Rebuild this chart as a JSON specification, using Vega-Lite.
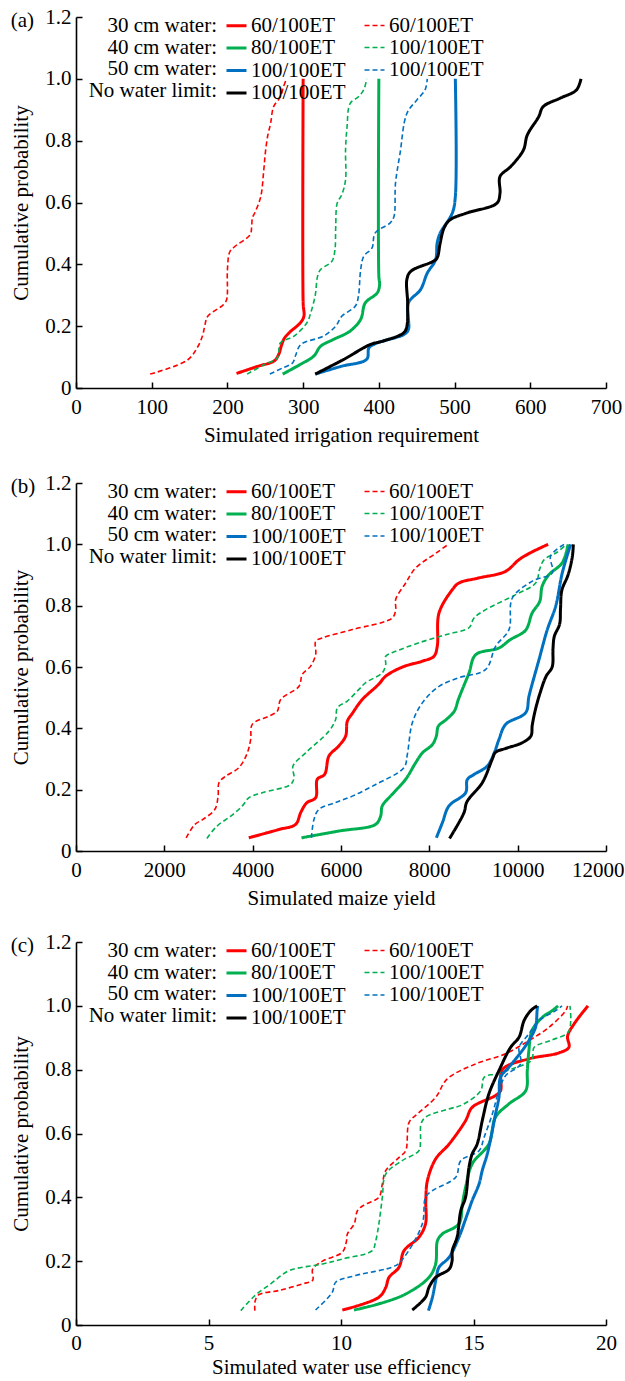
{
  "$schema": "https://vega.github.io/schema/vega-lite/v6.json",
  "padding": {"left": 10, "top": 6, "right": 0, "bottom": 0},
  "config": {
    "font": "Liberation Serif",
    "view": {"stroke": null},
    "axis": {"labelFont": "Liberation Serif", "labelFontSize": 21, "titleFont": "Liberation Serif", "titleFontSize": 21, "titleFontWeight": "normal", "labelColor": "black", "titleColor": "black", "domainColor": "black", "tickColor": "black", "domainWidth": 1.6, "tickWidth": 1.5, "tickSize": -6, "grid": false, "labelFlush": false, "labelOverlap": false},
    "axisX": {"labelPadding": 14, "titlePadding": 7},
    "axisY": {"labelPadding": 11, "titlePadding": 13},
    "legend": {"orient": "none", "legendX": 13, "legendY": -3, "columns": 2, "columnPadding": 15, "rowPadding": 0.5, "symbolType": "stroke", "symbolSize": 400, "labelOffset": 3, "labelFont": "Liberation Serif", "labelFontSize": 21, "labelColor": "black", "labelLimit": 300, "titleOrient": "left", "titleAlign": "right", "titleFont": "Liberation Serif", "titleFontSize": 21, "titleFontWeight": "normal", "titleColor": "black", "titleLineHeight": 21.7, "titlePadding": -121, "titleBaseline": "middle", "titleLimit": 400, "padding": 0},
    "title": {"font": "Liberation Serif", "fontSize": 21, "fontWeight": "normal", "color": "black", "anchor": "start", "frame": "bounds", "offset": -25, "baseline": "top"}
  },
  "datasets": {
    "a": [
      {"s":"s30","x":212,"p":0.047},{"s":"s30","x":240,"p":0.07},{"s":"s30","x":262,"p":0.088},{"s":"s30","x":268,"p":0.11},{"s":"s30","x":271,"p":0.135},{"s":"s30","x":275,"p":0.16},{"s":"s30","x":282,"p":0.18},{"s":"s30","x":296,"p":0.21},{"s":"s30","x":301,"p":0.232},{"s":"s30","x":300,"p":0.275},{"s":"s30","x":300,"p":1.0},
      {"s":"d30","x":98,"p":0.045},{"s":"d30","x":147,"p":0.09},{"s":"d30","x":160,"p":0.13},{"s":"d30","x":167,"p":0.168},{"s":"d30","x":170,"p":0.2},{"s":"d30","x":174,"p":0.232},{"s":"d30","x":195,"p":0.27},{"s":"d30","x":199,"p":0.286},{"s":"d30","x":200,"p":0.383},{"s":"d30","x":203,"p":0.44},{"s":"d30","x":209,"p":0.456},{"s":"d30","x":230,"p":0.496},{"s":"d30","x":232,"p":0.523},{"s":"d30","x":233,"p":0.55},{"s":"d30","x":237,"p":0.571},{"s":"d30","x":244,"p":0.619},{"s":"d30","x":248,"p":0.705},{"s":"d30","x":250,"p":0.759},{"s":"d30","x":253,"p":0.813},{"s":"d30","x":257,"p":0.856},{"s":"d30","x":261,"p":0.91},{"s":"d30","x":270,"p":0.942},{"s":"d30","x":274,"p":0.974},{"s":"d30","x":278,"p":1.0},
      {"s":"s40","x":273,"p":0.045},{"s":"s40","x":296,"p":0.076},{"s":"s40","x":314,"p":0.103},{"s":"s40","x":323,"p":0.135},{"s":"s40","x":340,"p":0.157},{"s":"s40","x":362,"p":0.184},{"s":"s40","x":376,"p":0.222},{"s":"s40","x":382,"p":0.275},{"s":"s40","x":398,"p":0.308},{"s":"s40","x":401,"p":0.335},{"s":"s40","x":400,"p":0.361},{"s":"s40","x":400,"p":1.0},
      {"s":"d40","x":226,"p":0.045},{"s":"d40","x":248,"p":0.075},{"s":"d40","x":266,"p":0.098},{"s":"d40","x":270,"p":0.146},{"s":"d40","x":288,"p":0.168},{"s":"d40","x":305,"p":0.211},{"s":"d40","x":310,"p":0.243},{"s":"d40","x":316,"p":0.3},{"s":"d40","x":319,"p":0.361},{"s":"d40","x":323,"p":0.383},{"s":"d40","x":338,"p":0.41},{"s":"d40","x":342,"p":0.447},{"s":"d40","x":343,"p":0.52},{"s":"d40","x":345,"p":0.598},{"s":"d40","x":351,"p":0.625},{"s":"d40","x":356,"p":0.673},{"s":"d40","x":356,"p":0.77},{"s":"d40","x":358,"p":0.845},{"s":"d40","x":362,"p":0.92},{"s":"d40","x":373,"p":0.942},{"s":"d40","x":380,"p":0.964},{"s":"d40","x":384,"p":1.0},
      {"s":"s50","x":316,"p":0.045},{"s":"s50","x":350,"p":0.07},{"s":"s50","x":384,"p":0.093},{"s":"s50","x":387,"p":0.13},{"s":"s50","x":398,"p":0.146},{"s":"s50","x":433,"p":0.173},{"s":"s50","x":439,"p":0.189},{"s":"s50","x":439,"p":0.275},{"s":"s50","x":455,"p":0.318},{"s":"s50","x":464,"p":0.372},{"s":"s50","x":475,"p":0.415},{"s":"s50","x":477,"p":0.469},{"s":"s50","x":481,"p":0.501},{"s":"s50","x":497,"p":0.566},{"s":"s50","x":501,"p":0.619},{"s":"s50","x":501,"p":1.0},
      {"s":"d50","x":256,"p":0.045},{"s":"d50","x":273,"p":0.065},{"s":"d50","x":286,"p":0.081},{"s":"d50","x":290,"p":0.105},{"s":"d50","x":297,"p":0.141},{"s":"d50","x":327,"p":0.168},{"s":"d50","x":343,"p":0.2},{"s":"d50","x":351,"p":0.232},{"s":"d50","x":369,"p":0.265},{"s":"d50","x":373,"p":0.297},{"s":"d50","x":376,"p":0.383},{"s":"d50","x":380,"p":0.426},{"s":"d50","x":391,"p":0.453},{"s":"d50","x":395,"p":0.501},{"s":"d50","x":415,"p":0.534},{"s":"d50","x":420,"p":0.555},{"s":"d50","x":422,"p":0.663},{"s":"d50","x":428,"p":0.759},{"s":"d50","x":437,"p":0.888},{"s":"d50","x":450,"p":0.931},{"s":"d50","x":461,"p":0.964},{"s":"d50","x":464,"p":1.0},
      {"s":"nl","x":316,"p":0.045},{"s":"nl","x":354,"p":0.093},{"s":"nl","x":389,"p":0.141},{"s":"nl","x":406,"p":0.152},{"s":"nl","x":433,"p":0.179},{"s":"nl","x":437,"p":0.2},{"s":"nl","x":438,"p":0.275},{"s":"nl","x":437,"p":0.351},{"s":"nl","x":442,"p":0.377},{"s":"nl","x":472,"p":0.41},{"s":"nl","x":477,"p":0.421},{"s":"nl","x":481,"p":0.469},{"s":"nl","x":486,"p":0.517},{"s":"nl","x":494,"p":0.544},{"s":"nl","x":516,"p":0.566},{"s":"nl","x":556,"p":0.598},{"s":"nl","x":560,"p":0.63},{"s":"nl","x":560,"p":0.684},{"s":"nl","x":574,"p":0.716},{"s":"nl","x":591,"p":0.77},{"s":"nl","x":596,"p":0.818},{"s":"nl","x":611,"p":0.877},{"s":"nl","x":617,"p":0.91},{"s":"nl","x":639,"p":0.937},{"s":"nl","x":661,"p":0.964},{"s":"nl","x":667,"p":1.0}
    ],
    "b": [
      {"s":"s30","x":3912,"p":0.043},{"s":"s30","x":4590,"p":0.07},{"s":"s30","x":4974,"p":0.087},{"s":"s30","x":5087,"p":0.125},{"s":"s30","x":5223,"p":0.157},{"s":"s30","x":5427,"p":0.174},{"s":"s30","x":5464,"p":0.234},{"s":"s30","x":5630,"p":0.25},{"s":"s30","x":5728,"p":0.31},{"s":"s30","x":5946,"p":0.342},{"s":"s30","x":6106,"p":0.375},{"s":"s30","x":6143,"p":0.423},{"s":"s30","x":6262,"p":0.45},{"s":"s30","x":6482,"p":0.494},{"s":"s30","x":6849,"p":0.543},{"s":"s30","x":7012,"p":0.57},{"s":"s30","x":7392,"p":0.6},{"s":"s30","x":7843,"p":0.619},{"s":"s30","x":8105,"p":0.635},{"s":"s30","x":8180,"p":0.668},{"s":"s30","x":8219,"p":0.776},{"s":"s30","x":8520,"p":0.852},{"s":"s30","x":8672,"p":0.874},{"s":"s30","x":9108,"p":0.89},{"s":"s30","x":9728,"p":0.912},{"s":"s30","x":10030,"p":0.95},{"s":"s30","x":10283,"p":0.972},{"s":"s30","x":10690,"p":1.0},
      {"s":"d30","x":2494,"p":0.043},{"s":"d30","x":2693,"p":0.087},{"s":"d30","x":2873,"p":0.103},{"s":"d30","x":3145,"p":0.136},{"s":"d30","x":3217,"p":0.179},{"s":"d30","x":3238,"p":0.223},{"s":"d30","x":3389,"p":0.244},{"s":"d30","x":3690,"p":0.272},{"s":"d30","x":3879,"p":0.32},{"s":"d30","x":3955,"p":0.364},{"s":"d30","x":3992,"p":0.413},{"s":"d30","x":4370,"p":0.44},{"s":"d30","x":4558,"p":0.456},{"s":"d30","x":4634,"p":0.494},{"s":"d30","x":5049,"p":0.537},{"s":"d30","x":5124,"p":0.576},{"s":"d30","x":5313,"p":0.603},{"s":"d30","x":5427,"p":0.641},{"s":"d30","x":5427,"p":0.684},{"s":"d30","x":5577,"p":0.695},{"s":"d30","x":6256,"p":0.722},{"s":"d30","x":7161,"p":0.76},{"s":"d30","x":7238,"p":0.787},{"s":"d30","x":7238,"p":0.82},{"s":"d30","x":7465,"p":0.874},{"s":"d30","x":7691,"p":0.923},{"s":"d30","x":8159,"p":0.972},{"s":"d30","x":8430,"p":1.0},
      {"s":"s40","x":5105,"p":0.043},{"s":"s40","x":5946,"p":0.065},{"s":"s40","x":6785,"p":0.087},{"s":"s40","x":6898,"p":0.114},{"s":"s40","x":6935,"p":0.147},{"s":"s40","x":7161,"p":0.185},{"s":"s40","x":7465,"p":0.234},{"s":"s40","x":7691,"p":0.288},{"s":"s40","x":7843,"p":0.32},{"s":"s40","x":8069,"p":0.347},{"s":"s40","x":8159,"p":0.375},{"s":"s40","x":8204,"p":0.407},{"s":"s40","x":8386,"p":0.429},{"s":"s40","x":8566,"p":0.456},{"s":"s40","x":8657,"p":0.494},{"s":"s40","x":8747,"p":0.527},{"s":"s40","x":8898,"p":0.58},{"s":"s40","x":9049,"p":0.64},{"s":"s40","x":9577,"p":0.662},{"s":"s40","x":9831,"p":0.689},{"s":"s40","x":10181,"p":0.72},{"s":"s40","x":10328,"p":0.776},{"s":"s40","x":10500,"p":0.814},{"s":"s40","x":10554,"p":0.863},{"s":"s40","x":10700,"p":0.9},{"s":"s40","x":11010,"p":0.94},{"s":"s40","x":11142,"p":1.0},
      {"s":"d40","x":2964,"p":0.041},{"s":"d40","x":3190,"p":0.081},{"s":"d40","x":3506,"p":0.114},{"s":"d40","x":3766,"p":0.147},{"s":"d40","x":3917,"p":0.174},{"s":"d40","x":4218,"p":0.19},{"s":"d40","x":4861,"p":0.217},{"s":"d40","x":4936,"p":0.239},{"s":"d40","x":4913,"p":0.277},{"s":"d40","x":5200,"p":0.32},{"s":"d40","x":5728,"p":0.391},{"s":"d40","x":5879,"p":0.429},{"s":"d40","x":5917,"p":0.467},{"s":"d40","x":6143,"p":0.489},{"s":"d40","x":6407,"p":0.527},{"s":"d40","x":6559,"p":0.549},{"s":"d40","x":6935,"p":0.581},{"s":"d40","x":7012,"p":0.608},{"s":"d40","x":7012,"p":0.635},{"s":"d40","x":7238,"p":0.651},{"s":"d40","x":7766,"p":0.679},{"s":"d40","x":8386,"p":0.706},{"s":"d40","x":8898,"p":0.728},{"s":"d40","x":9012,"p":0.76},{"s":"d40","x":9276,"p":0.787},{"s":"d40","x":9955,"p":0.836},{"s":"d40","x":10408,"p":0.874},{"s":"d40","x":10500,"p":0.92},{"s":"d40","x":10600,"p":0.95},{"s":"d40","x":10900,"p":0.975},{"s":"d40","x":11096,"p":1.0},
      {"s":"s50","x":8159,"p":0.043},{"s":"s50","x":8295,"p":0.092},{"s":"s50","x":8445,"p":0.147},{"s":"s50","x":8822,"p":0.19},{"s":"s50","x":8860,"p":0.233},{"s":"s50","x":9018,"p":0.25},{"s":"s50","x":9313,"p":0.277},{"s":"s50","x":9470,"p":0.32},{"s":"s50","x":9577,"p":0.364},{"s":"s50","x":9728,"p":0.413},{"s":"s50","x":10181,"p":0.451},{"s":"s50","x":10257,"p":0.505},{"s":"s50","x":10483,"p":0.624},{"s":"s50","x":10671,"p":0.722},{"s":"s50","x":10860,"p":0.798},{"s":"s50","x":11010,"p":0.907},{"s":"s50","x":11200,"p":1.0},
      {"s":"d50","x":5331,"p":0.043},{"s":"d50","x":5388,"p":0.103},{"s":"d50","x":5502,"p":0.136},{"s":"d50","x":5879,"p":0.158},{"s":"d50","x":6256,"p":0.179},{"s":"d50","x":6785,"p":0.217},{"s":"d50","x":7426,"p":0.272},{"s":"d50","x":7502,"p":0.315},{"s":"d50","x":7615,"p":0.418},{"s":"d50","x":7841,"p":0.483},{"s":"d50","x":8219,"p":0.537},{"s":"d50","x":8672,"p":0.565},{"s":"d50","x":9276,"p":0.592},{"s":"d50","x":9502,"p":0.668},{"s":"d50","x":9804,"p":0.722},{"s":"d50","x":9879,"p":0.825},{"s":"d50","x":10332,"p":0.88},{"s":"d50","x":10784,"p":0.907},{"s":"d50","x":10747,"p":0.962},{"s":"d50","x":11049,"p":1.0},
      {"s":"nl","x":8458,"p":0.041},{"s":"nl","x":8785,"p":0.125},{"s":"nl","x":8850,"p":0.16},{"s":"nl","x":9200,"p":0.223},{"s":"nl","x":9426,"p":0.3},{"s":"nl","x":9500,"p":0.322},{"s":"nl","x":9741,"p":0.335},{"s":"nl","x":10102,"p":0.353},{"s":"nl","x":10300,"p":0.375},{"s":"nl","x":10330,"p":0.41},{"s":"nl","x":10400,"p":0.46},{"s":"nl","x":10509,"p":0.516},{"s":"nl","x":10645,"p":0.57},{"s":"nl","x":10781,"p":0.6},{"s":"nl","x":10800,"p":0.66},{"s":"nl","x":10830,"p":0.7},{"s":"nl","x":10950,"p":0.74},{"s":"nl","x":10970,"p":0.79},{"s":"nl","x":11000,"p":0.85},{"s":"nl","x":11140,"p":0.9},{"s":"nl","x":11238,"p":0.96},{"s":"nl","x":11260,"p":1.0}
    ],
    "c": [
      {"s":"s30","x":10.05,"p":0.047},{"s":"s30","x":11.43,"p":0.087},{"s":"s30","x":11.69,"p":0.118},{"s":"s30","x":11.81,"p":0.149},{"s":"s30","x":12.19,"p":0.181},{"s":"s30","x":12.38,"p":0.233},{"s":"s30","x":12.94,"p":0.275},{"s":"s30","x":13.19,"p":0.317},{"s":"s30","x":13.2,"p":0.39},{"s":"s30","x":13.26,"p":0.452},{"s":"s30","x":13.57,"p":0.52},{"s":"s30","x":14.08,"p":0.567},{"s":"s30","x":14.7,"p":0.64},{"s":"s30","x":14.95,"p":0.682},{"s":"s30","x":15.83,"p":0.719},{"s":"s30","x":16.02,"p":0.734},{"s":"s30","x":16.09,"p":0.8},{"s":"s30","x":17.09,"p":0.834},{"s":"s30","x":18.2,"p":0.852},{"s":"s30","x":18.6,"p":0.87},{"s":"s30","x":18.55,"p":0.905},{"s":"s30","x":18.8,"p":0.944},{"s":"s30","x":19.32,"p":1.0},
      {"s":"d30","x":6.75,"p":0.045},{"s":"d30","x":6.76,"p":0.075},{"s":"d30","x":6.9,"p":0.095},{"s":"d30","x":7.65,"p":0.108},{"s":"d30","x":8.55,"p":0.129},{"s":"d30","x":8.93,"p":0.14},{"s":"d30","x":8.93,"p":0.175},{"s":"d30","x":9.3,"p":0.2},{"s":"d30","x":10.05,"p":0.228},{"s":"d30","x":10.2,"p":0.26},{"s":"d30","x":10.24,"p":0.285},{"s":"d30","x":10.5,"p":0.317},{"s":"d30","x":10.62,"p":0.358},{"s":"d30","x":10.85,"p":0.375},{"s":"d30","x":11.43,"p":0.4},{"s":"d30","x":11.56,"p":0.442},{"s":"d30","x":11.69,"p":0.484},{"s":"d30","x":12.19,"p":0.525},{"s":"d30","x":12.44,"p":0.546},{"s":"d30","x":12.57,"p":0.635},{"s":"d30","x":12.88,"p":0.661},{"s":"d30","x":13.57,"p":0.713},{"s":"d30","x":14.01,"p":0.771},{"s":"d30","x":15.08,"p":0.818},{"s":"d30","x":16.21,"p":0.85},{"s":"d30","x":17.09,"p":0.891},{"s":"d30","x":17.85,"p":0.933},{"s":"d30","x":18.48,"p":0.985},{"s":"d30","x":18.55,"p":1.0},
      {"s":"s40","x":10.49,"p":0.047},{"s":"s40","x":11.42,"p":0.066},{"s":"s40","x":12.44,"p":0.097},{"s":"s40","x":13.32,"p":0.149},{"s":"s40","x":13.57,"p":0.191},{"s":"s40","x":13.64,"p":0.264},{"s":"s40","x":13.82,"p":0.285},{"s":"s40","x":14.45,"p":0.317},{"s":"s40","x":14.58,"p":0.379},{"s":"s40","x":14.7,"p":0.431},{"s":"s40","x":14.95,"p":0.505},{"s":"s40","x":15.58,"p":0.567},{"s":"s40","x":15.83,"p":0.651},{"s":"s40","x":16.34,"p":0.693},{"s":"s40","x":16.97,"p":0.734},{"s":"s40","x":17.03,"p":0.797},{"s":"s40","x":17.09,"p":0.86},{"s":"s40","x":17.21,"p":0.923},{"s":"s40","x":17.6,"p":0.964},{"s":"s40","x":17.97,"p":0.985},{"s":"s40","x":18.19,"p":1.0},
      {"s":"d40","x":6.22,"p":0.045},{"s":"d40","x":6.75,"p":0.092},{"s":"d40","x":7.35,"p":0.129},{"s":"d40","x":8.04,"p":0.17},{"s":"d40","x":9.3,"p":0.191},{"s":"d40","x":10.06,"p":0.207},{"s":"d40","x":11.18,"p":0.233},{"s":"d40","x":11.3,"p":0.26},{"s":"d40","x":11.43,"p":0.317},{"s":"d40","x":11.56,"p":0.4},{"s":"d40","x":11.69,"p":0.473},{"s":"d40","x":12.31,"p":0.515},{"s":"d40","x":12.94,"p":0.546},{"s":"d40","x":13.0,"p":0.578},{"s":"d40","x":13.02,"p":0.63},{"s":"d40","x":13.19,"p":0.651},{"s":"d40","x":14.07,"p":0.677},{"s":"d40","x":14.58,"p":0.69},{"s":"d40","x":15.27,"p":0.734},{"s":"d40","x":15.4,"p":0.776},{"s":"d40","x":15.83,"p":0.787},{"s":"d40","x":16.65,"p":0.808},{"s":"d40","x":17.2,"p":0.83},{"s":"d40","x":17.29,"p":0.87},{"s":"d40","x":17.89,"p":0.891},{"s":"d40","x":18.57,"p":0.917},{"s":"d40","x":18.67,"p":0.954},{"s":"d40","x":18.64,"p":1.0},
      {"s":"s50","x":13.3,"p":0.045},{"s":"s50","x":13.45,"p":0.087},{"s":"s50","x":13.6,"p":0.15},{"s":"s50","x":13.7,"p":0.181},{"s":"s50","x":14.08,"p":0.212},{"s":"s50","x":14.45,"p":0.275},{"s":"s50","x":14.77,"p":0.348},{"s":"s50","x":14.95,"p":0.39},{"s":"s50","x":15.21,"p":0.442},{"s":"s50","x":15.33,"p":0.484},{"s":"s50","x":15.52,"p":0.536},{"s":"s50","x":15.71,"p":0.609},{"s":"s50","x":15.83,"p":0.661},{"s":"s50","x":15.96,"p":0.713},{"s":"s50","x":16.02,"p":0.776},{"s":"s50","x":16.34,"p":0.808},{"s":"s50","x":16.84,"p":0.86},{"s":"s50","x":17.09,"p":0.891},{"s":"s50","x":17.34,"p":0.933},{"s":"s50","x":17.4,"p":0.985},{"s":"s50","x":17.42,"p":1.0},
      {"s":"d50","x":9.04,"p":0.047},{"s":"d50","x":9.67,"p":0.102},{"s":"d50","x":9.8,"p":0.134},{"s":"d50","x":10.55,"p":0.155},{"s":"d50","x":12.06,"p":0.186},{"s":"d50","x":12.38,"p":0.212},{"s":"d50","x":13.07,"p":0.317},{"s":"d50","x":13.19,"p":0.4},{"s":"d50","x":13.45,"p":0.421},{"s":"d50","x":14.33,"p":0.463},{"s":"d50","x":14.52,"p":0.515},{"s":"d50","x":15.21,"p":0.546},{"s":"d50","x":15.4,"p":0.588},{"s":"d50","x":15.71,"p":0.661},{"s":"d50","x":15.96,"p":0.734},{"s":"d50","x":16.21,"p":0.781},{"s":"d50","x":16.78,"p":0.818},{"s":"d50","x":16.72,"p":0.87},{"s":"d50","x":17.09,"p":0.912},{"s":"d50","x":17.47,"p":0.954},{"s":"d50","x":18.1,"p":0.985},{"s":"d50","x":18.34,"p":1.0},
      {"s":"nl","x":12.69,"p":0.047},{"s":"nl","x":13.19,"p":0.087},{"s":"nl","x":13.32,"p":0.118},{"s":"nl","x":13.57,"p":0.149},{"s":"nl","x":14.08,"p":0.175},{"s":"nl","x":14.19,"p":0.2},{"s":"nl","x":14.2,"p":0.233},{"s":"nl","x":14.38,"p":0.275},{"s":"nl","x":14.52,"p":0.358},{"s":"nl","x":14.7,"p":0.4},{"s":"nl","x":14.83,"p":0.494},{"s":"nl","x":14.95,"p":0.536},{"s":"nl","x":15.14,"p":0.567},{"s":"nl","x":15.33,"p":0.64},{"s":"nl","x":15.58,"p":0.724},{"s":"nl","x":15.96,"p":0.797},{"s":"nl","x":16.4,"p":0.87},{"s":"nl","x":16.72,"p":0.902},{"s":"nl","x":16.91,"p":0.954},{"s":"nl","x":17.16,"p":0.985},{"s":"nl","x":17.4,"p":1.0}
    ]
  },
  "spacing": 27,
  "resolve": {"scale": {"color": "independent", "strokeDash": "independent", "strokeWidth": "independent"}, "legend": {"color": "independent", "strokeDash": "independent", "strokeWidth": "independent"}},
  "vconcat": [
    {
      "width": 530, "height": 371,
      "title": {"text": "(a)"},
      "data": {"name": "a"},
      "mark": {"type": "line", "interpolate": "catmull-rom"},
      "encoding": {
        "x": {"field": "x", "type": "quantitative", "scale": {"domain": [0, 700], "nice": false}, "axis": {"values": [0,100,200,300,400,500,600,700], "format": "d", "title": "Simulated irrigation requirement"}},
        "y": {"field": "p", "type": "quantitative", "scale": {"domain": [0, 1.2], "nice": false}, "axis": {"values": [0,0.2,0.4,0.6,0.8,1.0,1.2], "labelExpr": "datum.value == 0 ? '0' : format(datum.value, '.1f')", "title": "Cumulative probability"}},
        "order": {"field": "p", "type": "quantitative"},
        "color": {"field": "s", "type": "nominal", "scale": {"domain": ["s30","s40","s50","nl","d30","d40","d50"], "range": ["#ff0000","#00b050","#0070c0","#000000","#ff0000","#00b050","#0070c0"]}, "legend": {"title": ["30 cm water:", "40 cm water:", "50 cm water:", "No water limit:"], "labelExpr": "(datum.label == 's30' || datum.label == 'd30') ? '60/100ET' : datum.label == 's40' ? '80/100ET' : '100/100ET'"}},
        "strokeDash": {"field": "s", "type": "nominal", "scale": {"domain": ["s30","s40","s50","nl","d30","d40","d50"], "range": [[1,0],[1,0],[1,0],[1,0],[5,3],[5,3],[5,3]]}, "legend": {"title": ["30 cm water:", "40 cm water:", "50 cm water:", "No water limit:"], "labelExpr": "(datum.label == 's30' || datum.label == 'd30') ? '60/100ET' : datum.label == 's40' ? '80/100ET' : '100/100ET'"}},
        "strokeWidth": {"field": "s", "type": "nominal", "scale": {"type": "ordinal", "domain": ["s30","s40","s50","nl","d30","d40","d50"], "range": [3,3,3,3,1.6,1.6,1.6]}, "legend": {"title": ["30 cm water:", "40 cm water:", "50 cm water:", "No water limit:"], "labelExpr": "(datum.label == 's30' || datum.label == 'd30') ? '60/100ET' : datum.label == 's40' ? '80/100ET' : '100/100ET'"}}
      }
    },
    {
      "spacing": 23,
      "resolve": {"scale": {"color": "independent", "strokeDash": "independent", "strokeWidth": "independent"}, "legend": {"color": "independent", "strokeDash": "independent", "strokeWidth": "independent"}},
      "vconcat": [
        {
          "width": 530, "height": 368,
          "title": {"text": "(b)"},
          "data": {"name": "b"},
          "mark": {"type": "line", "interpolate": "catmull-rom"},
          "encoding": {
            "x": {"field": "x", "type": "quantitative", "scale": {"domain": [0, 12000], "nice": false}, "axis": {"values": [0,2000,4000,6000,8000,10000,12000], "format": "d", "title": "Simulated maize yield", "labelAlign": {"condition": {"test": "datum.value == 12000", "value": "right"}, "value": "center"}, "labelOffset": {"condition": {"test": "datum.value == 12000", "value": 18}, "value": 0}}},
            "y": {"field": "p", "type": "quantitative", "scale": {"domain": [0, 1.2], "nice": false}, "axis": {"values": [0,0.2,0.4,0.6,0.8,1.0,1.2], "labelExpr": "datum.value == 0 ? '0' : format(datum.value, '.1f')", "title": "Cumulative probability"}},
            "order": {"field": "p", "type": "quantitative"},
            "color": {"field": "s", "type": "nominal", "scale": {"domain": ["s30","s40","s50","nl","d30","d40","d50"], "range": ["#ff0000","#00b050","#0070c0","#000000","#ff0000","#00b050","#0070c0"]}, "legend": {"title": ["30 cm water:", "40 cm water:", "50 cm water:", "No water limit:"], "labelExpr": "(datum.label == 's30' || datum.label == 'd30') ? '60/100ET' : datum.label == 's40' ? '80/100ET' : '100/100ET'"}},
            "strokeDash": {"field": "s", "type": "nominal", "scale": {"domain": ["s30","s40","s50","nl","d30","d40","d50"], "range": [[1,0],[1,0],[1,0],[1,0],[5,3],[5,3],[5,3]]}, "legend": {"title": ["30 cm water:", "40 cm water:", "50 cm water:", "No water limit:"], "labelExpr": "(datum.label == 's30' || datum.label == 'd30') ? '60/100ET' : datum.label == 's40' ? '80/100ET' : '100/100ET'"}},
            "strokeWidth": {"field": "s", "type": "nominal", "scale": {"type": "ordinal", "domain": ["s30","s40","s50","nl","d30","d40","d50"], "range": [3,3,3,3,1.6,1.6,1.6]}, "legend": {"title": ["30 cm water:", "40 cm water:", "50 cm water:", "No water limit:"], "labelExpr": "(datum.label == 's30' || datum.label == 'd30') ? '60/100ET' : datum.label == 's40' ? '80/100ET' : '100/100ET'"}}
          }
        },
        {
          "width": 530, "height": 383,
          "title": {"text": "(c)"},
          "data": {"name": "c"},
          "mark": {"type": "line", "interpolate": "catmull-rom"},
          "encoding": {
            "x": {"field": "x", "type": "quantitative", "scale": {"domain": [0, 20], "nice": false}, "axis": {"values": [0,5,10,15,20], "format": "d", "title": "Simulated water use efficiency", "titlePadding": 3, "labelPadding": 13}},
            "y": {"field": "p", "type": "quantitative", "scale": {"domain": [0, 1.2], "nice": false}, "axis": {"values": [0,0.2,0.4,0.6,0.8,1.0,1.2], "labelExpr": "datum.value == 0 ? '0' : format(datum.value, '.1f')", "title": "Cumulative probability"}},
            "order": {"field": "p", "type": "quantitative"},
            "color": {"field": "s", "type": "nominal", "scale": {"domain": ["s30","s40","s50","nl","d30","d40","d50"], "range": ["#ff0000","#00b050","#0070c0","#000000","#ff0000","#00b050","#0070c0"]}, "legend": {"title": ["30 cm water:", "40 cm water:", "50 cm water:", "No water limit:"], "labelExpr": "(datum.label == 's30' || datum.label == 'd30') ? '60/100ET' : datum.label == 's40' ? '80/100ET' : '100/100ET'"}},
            "strokeDash": {"field": "s", "type": "nominal", "scale": {"domain": ["s30","s40","s50","nl","d30","d40","d50"], "range": [[1,0],[1,0],[1,0],[1,0],[5,3],[5,3],[5,3]]}, "legend": {"title": ["30 cm water:", "40 cm water:", "50 cm water:", "No water limit:"], "labelExpr": "(datum.label == 's30' || datum.label == 'd30') ? '60/100ET' : datum.label == 's40' ? '80/100ET' : '100/100ET'"}},
            "strokeWidth": {"field": "s", "type": "nominal", "scale": {"type": "ordinal", "domain": ["s30","s40","s50","nl","d30","d40","d50"], "range": [3,3,3,3,1.6,1.6,1.6]}, "legend": {"title": ["30 cm water:", "40 cm water:", "50 cm water:", "No water limit:"], "labelExpr": "(datum.label == 's30' || datum.label == 'd30') ? '60/100ET' : datum.label == 's40' ? '80/100ET' : '100/100ET'"}}
          }
        }
      ]
    }
  ]
}
